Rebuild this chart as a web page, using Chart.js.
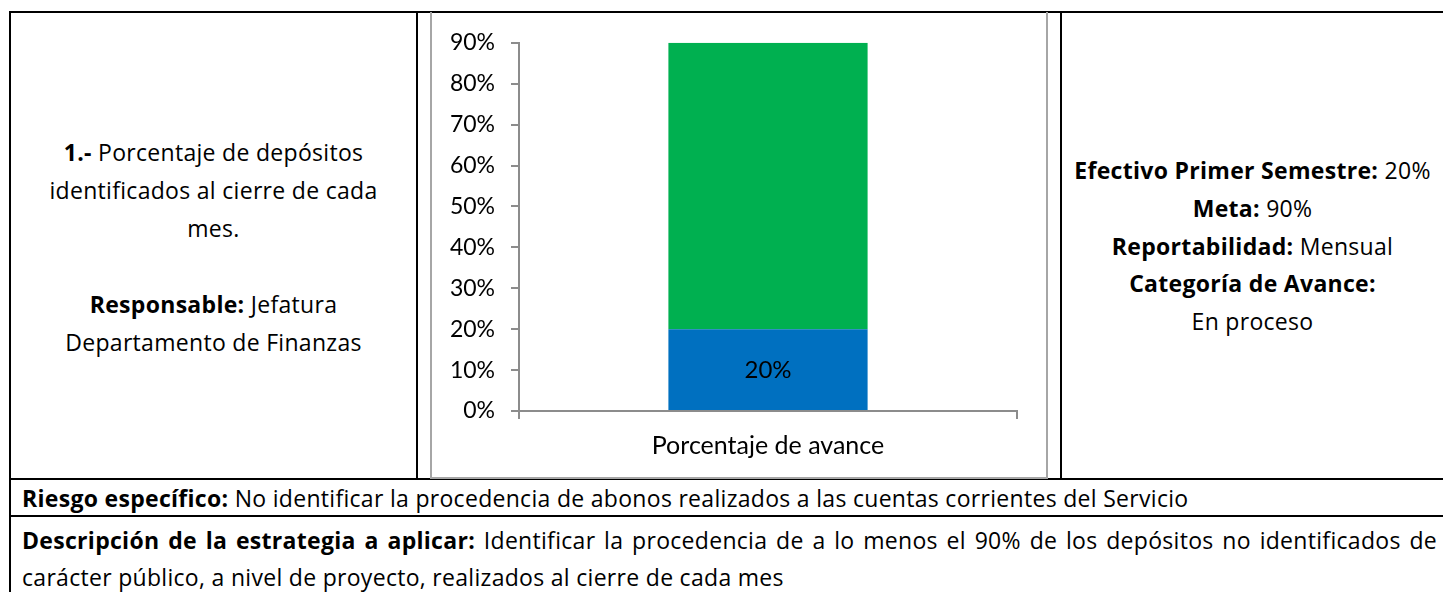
<!DOCTYPE html>
<html>
<head>
<meta charset="utf-8">
<script src="https://cdn.jsdelivr.net/npm/chart.js@4/dist/chart.umd.min.js"></script>
<style>
  html, body { margin:0; padding:0; background:#fff; }
  body { width:1443px; height:592px; position:relative; overflow:hidden; font-family:'Open Sans', sans-serif; color:#000; }
  .ln { position:absolute; background:#000; }
  .txt { position:absolute; font-size:23px; letter-spacing:0.3px; line-height:38px; white-space:nowrap; }
  b { font-weight:700; }
  #frame { position:absolute; left:430px; top:12px; width:614px; height:465px; border:2px solid #a6a6a6; border-top:none; box-sizing:content-box; }
  #chartBox { position:absolute; left:432px; top:13px; width:612px; height:463px; }
  .just { text-align:justify; text-align-last:justify; }
</style>
</head>
<body>
<!-- table borders -->
<div class="ln" style="left:9px;top:11px;width:1434px;height:2px"></div>
<div class="ln" style="left:9px;top:11px;width:2px;height:581px"></div>
<div class="ln" style="left:416px;top:11px;width:2px;height:468px"></div>
<div class="ln" style="left:1060px;top:11px;width:2px;height:468px"></div>
<div class="ln" style="left:9px;top:478px;width:1434px;height:2px"></div>
<div class="ln" style="left:9px;top:515px;width:1434px;height:2px"></div>

<div class="txt" style="left:11px;width:405px;top:133px;text-align:center">
  <b>1.-</b> Porcentaje de depósitos<br>identificados al cierre de cada<br>mes.<br>&nbsp;<br><b>Responsable:</b> Jefatura<br>Departamento de Finanzas
</div>

<div id="frame"></div>
<div id="chartBox"><canvas id="avanceChart"></canvas></div>

<div class="txt" style="left:1062px;width:381px;top:152px;line-height:37.75px;text-align:center">
  <b>Efectivo Primer Semestre:</b> 20%<br><b>Meta:</b> 90%<br><b>Reportabilidad:</b> Mensual<br><b>Categoría de Avance:</b><br>En proceso
</div>

<div class="txt" style="left:22px;top:479px">
  <b>Riesgo específico:</b> No identificar la procedencia de abonos realizados a las cuentas corrientes del Servicio
</div>
<div class="txt just" style="left:22px;top:522px;width:1415px;line-height:37px">
  <b>Descripción de la estrategia a aplicar:</b> Identificar la procedencia de a lo menos el 90% de los depósitos no identificados de
</div>
<div class="txt" style="left:22px;top:559px;line-height:37px">
  carácter público, a nivel de proyecto, realizados al cierre de cada mes
</div>

<script>
const categories = ['Porcentaje de avance'];
const efectivo = [0.20];
const restanteMeta = [0.70];
const yMax = 0.9;
const yStep = 0.1;

const pct = v => Math.round(v * 100) + '%';
const axisGray = '#8c8c8c';

// label inside the blue bar
const barLabel = {
  id: 'barLabel',
  afterDatasetsDraw(chart) {
    const ctx = chart.ctx;
    const meta = chart.getDatasetMeta(0);
    ctx.save();
    ctx.font = '24px Lato';
    ctx.fillStyle = '#000';
    ctx.textAlign = 'center';
    ctx.textBaseline = 'middle';
    meta.data.forEach((bar, i) => {
      const mid = (bar.y + bar.base) / 2;
      ctx.fillText(pct(efectivo[i]), bar.x, mid + 1);
    });
    ctx.restore();
  }
};

new Chart(document.getElementById('avanceChart').getContext('2d'), {
  type: 'bar',
  data: {
    labels: categories,
    datasets: [
      { label: 'Efectivo', data: efectivo, backgroundColor: '#0070c0' },
      { label: 'Meta', data: restanteMeta, backgroundColor: '#00b050' }
    ]
  },
  options: {
    responsive: true,
    maintainAspectRatio: false,
    animation: false,
    barPercentage: 0.4,
    categoryPercentage: 1,
    layout: { padding: { top: 28, right: 27, left: 0, bottom: 0 } },
    plugins: { legend: { display: false }, tooltip: { enabled: false } },
    scales: {
      x: {
        stacked: true,
        grid: { offset: true, drawOnChartArea: false, drawTicks: true, tickLength: 8, color: axisGray, lineWidth: 2 },
        border: { color: axisGray, width: 2 },
        ticks: { color: '#000', font: { family: 'Lato', size: 25 }, padding: 12 },
        afterFit: s => { s.height = 65; }
      },
      y: {
        stacked: true,
        min: 0,
        max: yMax,
        grid: { drawOnChartArea: false, tickLength: 8, color: axisGray, lineWidth: 2 },
        border: { color: axisGray, width: 2 },
        ticks: { stepSize: yStep, color: '#000', font: { family: 'Lato', size: 23 }, padding: 16, callback: v => pct(v) },
        afterFit: s => { s.width = 87; }
      }
    }
  },
  plugins: [barLabel]
});
</script>
</body>
</html>
